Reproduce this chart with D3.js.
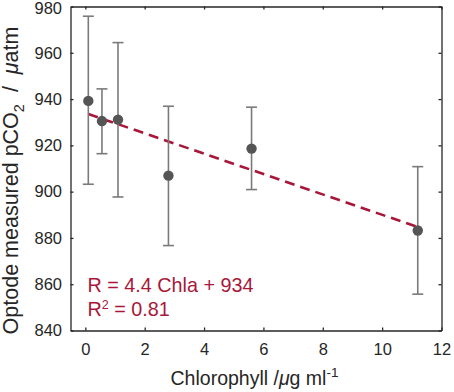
<!DOCTYPE html>
<html>
<head>
<meta charset="utf-8">
<script src="https://cdn.jsdelivr.net/npm/d3@7"></script>
<style>
  body { margin: 0; background: #fff; }
  text { font-family: "Liberation Sans", Arial, sans-serif; }
</style>
</head>
<body>
<svg id="chart" width="454" height="392"></svg>
<script>
// chlorophyll (ug/ml) and optode pCO2 (uatm) with error bar ends
const chla = [0.1, 0.56, 1.1, 2.8, 5.6, 11.2];
const pco2 = [939.2, 930.5, 931.1, 906.9, 918.6, 883.2];
const pco2Low = [903.2, 916.4, 897.7, 876.7, 900.9, 855.7];
const pco2High = [975.8, 944.4, 964.4, 936.9, 936.5, 910.8];

// fitted line
const fitSlope = -4.4;
const fitIntercept = 934;

const xTicks = [0, 2, 4, 6, 8, 10, 12];
const yTicks = [840, 860, 880, 900, 920, 940, 960, 980];

const axisColor = '#262626';
const red = '#a8173a';

const plotLeft = 70.5, plotRight = 441.5, plotTop = 6.5, plotBottom = 330.5;

const svg = d3.select('#chart');

const x = d3.scaleLinear().domain([-0.5, 12]).range([plotLeft, plotRight]);
const y = d3.scaleLinear().domain([840, 980]).range([plotBottom, plotTop]);

// axes (ticks pointing inward, box around plot)
const gx = svg.append('g')
    .attr('transform', `translate(0,${plotBottom})`)
    .call(d3.axisBottom(x).tickValues(xTicks).tickSizeInner(-3).tickSizeOuter(0).tickPadding(13));
const gy = svg.append('g')
    .attr('transform', `translate(${plotLeft},0)`)
    .call(d3.axisLeft(y).tickValues(yTicks).tickSizeInner(-3).tickSizeOuter(0).tickPadding(8.5));
const gt = svg.append('g')
    .attr('transform', `translate(0,${plotTop})`)
    .call(d3.axisTop(x).tickValues(xTicks).tickSizeInner(-3).tickSizeOuter(0).tickFormat(''));
const gr = svg.append('g')
    .attr('transform', `translate(${plotRight},0)`)
    .call(d3.axisRight(y).tickValues(yTicks).tickSizeInner(-3).tickSizeOuter(0).tickFormat(''));

[gx, gy, gt, gr].forEach(g => {
    g.select('.domain').attr('stroke', axisColor).attr('stroke-width', 1.3);
    g.selectAll('.tick line').attr('stroke', axisColor).attr('stroke-width', 1.3);
    g.selectAll('.tick text')
        .attr('fill', axisColor)
        .style('font-size', '16.5px')
        .style('font-family', '"Liberation Sans", Arial, sans-serif');
});
// keep the top label inside the page
gy.selectAll('.tick text').filter(d => d === 980).attr('dy', '0.42em');

// fit line
svg.append('line')
    .attr('x1', x(chla[0]))
    .attr('y1', y(fitIntercept + fitSlope * chla[0]))
    .attr('x2', x(chla[chla.length - 1]))
    .attr('y2', y(fitIntercept + fitSlope * chla[chla.length - 1]))
    .attr('stroke', red)
    .attr('stroke-width', 2.6)
    .attr('stroke-dasharray', '10,6');

// error bars
const pts = chla.map((c, i) => ({ c: c, v: pco2[i], lo: pco2Low[i], hi: pco2High[i] }));
const capW = 5.5;

const eb = svg.append('g')
    .attr('stroke', '#7a7a7a')
    .attr('stroke-width', 1.6);

eb.selectAll('line.stem')
    .data(pts)
    .join('line')
    .attr('class', 'stem')
    .attr('x1', d => x(d.c)).attr('x2', d => x(d.c))
    .attr('y1', d => y(d.lo)).attr('y2', d => y(d.hi));

eb.selectAll('line.capHi')
    .data(pts)
    .join('line')
    .attr('class', 'capHi')
    .attr('x1', d => x(d.c) - capW).attr('x2', d => x(d.c) + capW)
    .attr('y1', d => y(d.hi)).attr('y2', d => y(d.hi));

eb.selectAll('line.capLo')
    .data(pts)
    .join('line')
    .attr('class', 'capLo')
    .attr('x1', d => x(d.c) - capW).attr('x2', d => x(d.c) + capW)
    .attr('y1', d => y(d.lo)).attr('y2', d => y(d.lo));

// markers
svg.append('g')
    .selectAll('circle')
    .data(pts)
    .join('circle')
    .attr('cx', d => x(d.c))
    .attr('cy', d => y(d.v))
    .attr('r', 5.2)
    .attr('fill', '#555555');

// equation text
const eq = svg.append('g').attr('fill', red).style('font-size', '19.8px');
eq.append('text')
    .attr('x', 87.5)
    .attr('y', 292.3)
    .text('R = 4.4 Chla + 934');
const r2 = eq.append('text')
    .attr('x', 87.5)
    .attr('y', 316);
r2.append('tspan').text('R');
r2.append('tspan').attr('dy', -7).style('font-size', '12.5px').text('2');
r2.append('tspan').attr('dy', 7).text(' = 0.81');

// axis titles
const xt = svg.append('text')
    .attr('x', 254.5)
    .attr('y', 385)
    .attr('text-anchor', 'middle')
    .attr('fill', axisColor)
    .style('font-size', '19.5px');
xt.append('tspan').text('Chlorophyll /');
xt.append('tspan').style('font-style', 'italic').text('\u03bc');
xt.append('tspan').text('g ml');
xt.append('tspan').attr('dy', -8).style('font-size', '13.5px').text('-1');

const yt = svg.append('text')
    .attr('transform', 'translate(18,180.5) rotate(-90)')
    .attr('text-anchor', 'middle')
    .attr('fill', axisColor)
    .style('font-size', '21.5px');
yt.append('tspan').text('Optode measured pCO');
yt.append('tspan').attr('dy', 6).style('font-size', '14.5px').text('2');
yt.append('tspan').attr('dy', -6).text('\u00a0 / \u00a0');
yt.append('tspan').style('font-style', 'italic').text('\u03bc');
yt.append('tspan').text('atm');
</script>
</body>
</html>
